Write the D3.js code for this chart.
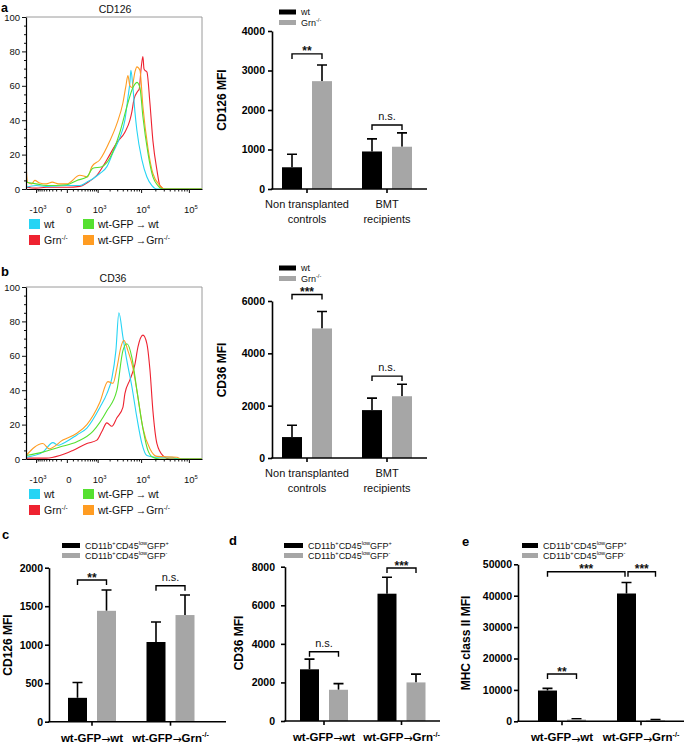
<!DOCTYPE html>
<html><head><meta charset="utf-8">
<script src="https://cdn.jsdelivr.net/npm/d3@7"></script>
<style>
body{margin:0;background:#fff;}
svg{font-family:"Liberation Sans",Arial,sans-serif;}
</style></head><body>
<svg id="fig" width="685" height="746"></svg>
<script>
// ================= DATA =================
// flow histograms: [fluorescence, % of max]
const histTicks = [-1000, 0, 1000, 10000, 100000];
const histTickLabels = [[["-10"],["3","sup"]], [["0"]], [["10"],["3","sup"]], [["10"],["4","sup"]], [["10"],["5","sup"]]];
const histYTicks = [0, 20, 40, 60, 80, 100];

const cd126Wt = [[-1800,1],[-1000,2],[-500,1.5],[0,2],[257,2],[478,4],[736,6],[1146,9],[1719,13],[2387,21],[3452,30],[4461,40],[5193,53],[5743,62],[6039,69],[6673,59],[7369,45],[8136,34],[10407,17],[13288,7],[16941,2],[21589,0],[187000,0]];
const cd126Grn = [[-1800,1],[-1000,0.5],[-500,1],[0,1],[257,1.5],[478,3.5],[953,8],[1719,17],[2952,27],[4461,33],[5743,40],[6347,45],[7012,52],[8549,57],[9100,58],[10000,70],[10929,77],[11500,70],[12054,69],[13288,68],[15376,50],[17785,28],[21589,11],[24951,2],[31750,0],[187000,0]];
const cd126GfpWt = [[-1800,4],[-1000,3],[-500,2],[0,2.5],[183,5],[478,7],[736,12],[1291,13],[2029,18],[3452,33],[5193,50],[6673,59],[7369,61],[8136,62],[9433,59],[10929,42],[13951,21],[17785,7],[22657,2],[28833,0],[187000,0]];
const cd126GfpGrn = [[-1800,15],[-1650,4],[-1300,3],[-1079,5],[-800,3.5],[-500,3],[-300,4],[-150,3],[0,3],[257,8],[500,7],[688,13],[1146,17],[2029,28],[2952,38],[4029,50],[4700,60],[5193,66],[5743,60],[6347,59],[7369,68],[8136,71],[9433,69],[10929,48],[13951,24],[17785,9],[24951,2],[31750,0],[187000,0]];

const cd36Wt = [[-1800,1],[-642,4],[-285,9.5],[-150,8],[-63,9],[183,14],[478,18],[1146,30],[1719,38],[2262,47],[2800,63],[3277,85],[4029,71],[4938,57],[6347,42],[8136,24],[10407,9],[13288,2],[20000,1],[45000,1],[60000,0],[187000,0]];
const cd36Grn = [[-1800,0.5],[-500,0.5],[-119,2],[99,5],[478,9],[953,11],[1291,16],[1719,21],[2262,19],[2952,24],[4029,30],[4461,38],[5743,46],[7369,55],[8549,65],[10929,72],[13288,67],[15376,52],[17785,28],[21589,9],[28833,2],[40000,0],[187000,0]];
const cd36GfpWt = [[-1800,2],[-642,4],[-119,7],[183,10],[736,16],[1719,28],[2952,40],[4029,63],[4938,67],[6347,59],[8136,40],[10407,21],[13951,5],[17785,1],[25000,0],[187000,0]];
const cd36GfpGrn = [[-1800,2],[-642,9],[-400,6],[-63,11],[183,15],[478,20],[1146,33],[1817,45],[2400,44],[2952,53],[3635,65],[4240,69],[5193,63],[6673,53],[8549,36],[10929,18],[15376,6],[21589,1.5],[56490,1],[70000,0],[187000,0]];

const histLegendLabels = [[["wt"]], [["wt-GFP\u2009\u2192\u2009wt"]], [["Grn"],["-/-","sup"]], [["wt-GFP\u2009\u2192Grn"],["-/-","sup"]]];

// bar charts
const abGroups = [["Non transplanted","controls"],["BMT","recipients"]];
const abLegend = [[["wt"]], [["Grn"],["-/-","sup"]]];
const aTicks = [0,1000,2000,3000,4000];
const aWt = [550, 950],   aWtErr = [330, 320];
const aGrn = [2730, 1070], aGrnErr = [410, 350];
const aSig = [{from:[0,0],to:[0,1],level:3420,label:"**"},{from:[1,0],to:[1,1],level:1620,label:"n.s."}];

const bTicks = [0,2000,4000,6000];
const bWt = [800, 1830],  bWtErr = [450, 460];
const bGrn = [4950, 2360], bGrnErr = [650, 460];
const bSig = [{from:[0,0],to:[0,1],level:6250,label:"***"},{from:[1,0],to:[1,1],level:3130,label:"n.s."}];

const cdeGroups = [[["wt-GFP"],["\u2192","sub"],["wt"]], [["wt-GFP"],["\u2192","sub"],["Grn"],["-/-","sup"]]];
const cdeLegend = [[["CD11b"],["+","sup"],["CD45"],["low","sup"],["GFP"],["+","sup"]], [["CD11b"],["+","sup"],["CD45"],["low","sup"],["GFP"],["-","sup"]]];
const cTicks = [0,500,1000,1500,2000];
const cPos = [310, 1035],  cPosErr = [200, 260];
const cNeg = [1440, 1385], cNegErr = [270, 260];
const cSig = [{from:[0,0],to:[0,1],level:1840,label:"**"},{from:[1,0],to:[1,1],level:1766,label:"n.s."}];

const dTicks = [0,2000,4000,6000,8000];
const dPos = [2680, 6600], dPosErr = [530, 850];
const dNeg = [1620, 2000], dNegErr = [320, 430];
const dSig = [{from:[0,0],to:[0,1],level:3590,label:"n.s."},{from:[1,0],to:[1,1],level:7930,label:"***"}];

const eTicks = [0,10000,20000,30000,40000,50000];
const ePos = [9800, 40700], ePosErr = [700, 3500];
const eNeg = [550, 320],    eNegErr = [250, 200];
const eSig = [{from:[0,0],to:[1,0],level:47640,label:"***",inset:[0,1.5]},{from:[1,0],to:[1,1],level:47640,label:"***",inset:[1.5,0]},{from:[0,0],to:[0,1],level:15060,label:"**"}];

// ================= STYLE =================
const COL = {cyan:'#25d4f4', red:'#ee2230', green:'#55e030', orange:'#ff9c22', gray:'#a6a6a6', black:'#000000', frame:'#9a9a9a'};

const svg = d3.select('#fig');

function rich(sel, segs, fs) {
  let shift = 0;
  segs.forEach(([t, kind]) => {
    const target = kind === 'sup' ? -fs*0.38 : kind === 'sub' ? fs*0.12 : 0;
    const ts = sel.append('tspan').text(t).attr('dy', target - shift);
    if (kind === 'sup') ts.attr('font-size', fs*0.62);
    if (kind === 'sub') ts.attr('font-size', fs*0.95).attr('font-family', '"DejaVu Sans",sans-serif').attr('font-weight', 'normal');
    shift = target;
  });
  return sel;
}

// ================= HISTOGRAMS =================
function histogram(cfg) {
  const g = svg.append('g');
  const x = d3.scaleSymlog().constant(300).domain([-1800, 187000]).range([cfg.x0, cfg.x1]);
  const y = d3.scaleLinear().domain([0, 100]).range([cfg.y0, cfg.y1]);
  const id = 'clip' + cfg.key;
  svg.append('clipPath').attr('id', id).append('rect')
    .attr('x', cfg.x0).attr('y', cfg.y1 - 2).attr('width', cfg.x1 - cfg.x0).attr('height', cfg.y0 - cfg.y1 + 2);

  g.append('path').attr('d', `M${cfg.x0},${cfg.y1}H${cfg.x1}V${cfg.y0}`)
    .attr('stroke', COL.frame).attr('fill', 'none').attr('stroke-width', 1);

  const line = d3.line().x(d => x(d[0])).y(d => y(d[1])).curve(d3.curveMonotoneX);
  cfg.series.forEach(s => {
    g.append('path').datum(s.data).attr('d', line).attr('fill', 'none')
      .attr('stroke', s.color).attr('stroke-width', 1.1).attr('clip-path', `url(#${id})`);
  });

  // y axis
  const minorY = d3.range(0, 101, 5).filter(v => v % 20 !== 0);
  g.append('g').attr('transform', `translate(${cfg.x0},0)`)
    .call(d3.axisLeft(y).tickValues(minorY).tickSize(2).tickFormat(''))
    .call(a => a.select('.domain').remove());
  const ya = g.append('g').attr('transform', `translate(${cfg.x0},0)`)
    .call(d3.axisLeft(y).tickValues(histYTicks).tickSize(4).tickSizeOuter(0).tickPadding(2));
  ya.selectAll('text').attr('font-size', 9.5).attr('font-family', '"Liberation Sans",Arial,sans-serif').attr('fill', '#111');

  // x axis
  const minorX = [].concat(d3.range(-900, 0, 100), d3.range(100, 1000, 100), d3.range(2000, 10000, 1000), d3.range(20000, 100000, 10000));
  g.append('g').attr('transform', `translate(0,${cfg.y0})`)
    .call(d3.axisBottom(x).tickValues(minorX).tickSize(2.5).tickFormat(''))
    .call(a => a.select('.domain').remove());
  const xa = g.append('g').attr('transform', `translate(0,${cfg.y0})`)
    .call(d3.axisBottom(x).tickValues(histTicks).tickSize(4).tickSizeOuter(0).tickFormat(''));
  [ya, xa].forEach(a => a.select('.domain').attr('stroke-width', 1.2));
  g.selectAll('.tick line').attr('stroke', '#111');

  histTicks.forEach((t, i) => {
    rich(g.append('text').attr('x', x(t) + 2).attr('y', cfg.y0 + 24).attr('text-anchor', 'middle')
      .attr('font-size', 9.5).attr('fill', '#111'), histTickLabels[i], 9.5);
  });

  g.append('text').attr('x', cfg.titleX).attr('y', cfg.titleY).attr('text-anchor', 'middle')
    .attr('font-size', 10.5).attr('fill', '#111').text(cfg.title);

  // legend
  const leg = [{c: COL.cyan, col: 0, row: 0}, {c: COL.green, col: 1, row: 0}, {c: COL.red, col: 0, row: 1}, {c: COL.orange, col: 1, row: 1}];
  leg.forEach((l, i) => {
    const lx = cfg.legX[l.col], ly = cfg.legY + l.row * 16;
    g.append('rect').attr('x', lx).attr('y', ly).attr('width', 11).attr('height', 10).attr('fill', l.c);
    rich(g.append('text').attr('x', lx + 15).attr('y', ly + 9).attr('font-size', 10.5).attr('fill', '#111'), histLegendLabels[i], 10.5);
  });
}

histogram({key: 'a', x0: 26, x1: 202, y0: 189, y1: 17, title: 'CD126', titleX: 115, titleY: 13, legX: [29, 83], legY: 219,
  series: [{data: cd126Grn, color: COL.red}, {data: cd126Wt, color: COL.cyan}, {data: cd126GfpGrn, color: COL.orange}, {data: cd126GfpWt, color: COL.green}]});
histogram({key: 'b', x0: 26, x1: 202, y0: 459, y1: 287, title: 'CD36', titleX: 113, titleY: 282, legX: [29, 83], legY: 489,
  series: [{data: cd36Grn, color: COL.red}, {data: cd36Wt, color: COL.cyan}, {data: cd36GfpGrn, color: COL.orange}, {data: cd36GfpWt, color: COL.green}]});

// ================= BAR CHARTS =================
function barChart(cfg) {
  const g = svg.append('g');
  const y = d3.scaleLinear().domain([0, cfg.yMax]).range([cfg.yZero, cfg.yTop]);
  const x = d3.scaleBand().domain(d3.range(cfg.groups.length)).range(cfg.xRange);
  const xs = d3.scaleBand().domain(d3.range(cfg.series.length)).range([-cfg.half, cfg.half]).paddingInner(cfg.pad);
  const gc = i => x(i) + x.bandwidth() / 2;
  const cx = (gi, si) => gc(gi) + xs(si) + xs.bandwidth() / 2;

  cfg.series.forEach((s, si) => {
    g.selectAll(null).data(s.values).join('path')
      .attr('d', (d, i) => { const c = cx(i, si), t = y(d + s.errors[i]); return `M${c},${y(d)}V${t}M${c - 5},${t}H${c + 5}`; })
      .attr('stroke', '#000').attr('stroke-width', 1.6).attr('fill', 'none');
    g.selectAll(null).data(s.values).join('rect')
      .attr('x', (d, i) => gc(i) + xs(si)).attr('y', d => y(d))
      .attr('width', xs.bandwidth()).attr('height', d => y(0) - y(d)).attr('fill', s.color);
  });

  // y axis
  const ya = g.append('g').attr('transform', `translate(${cfg.axisX},0)`)
    .call(d3.axisLeft(y).tickValues(cfg.ticks).tickSize(4).tickSizeOuter(0).tickPadding(cfg.tickPad).tickFormat(d3.format('d')));
  ya.selectAll('text').attr('font-size', cfg.tickFs).attr('font-weight', 'bold').attr('fill', '#000')
    .attr('font-family', '"Liberation Sans",Arial,sans-serif');
  ya.selectAll('line, path').attr('stroke-width', 1.6).attr('stroke', '#000');

  // x axis
  g.append('line').attr('x1', cfg.axisX - 0.8).attr('x2', cfg.axisEnd).attr('y1', y(0)).attr('y2', y(0))
    .attr('stroke', '#000').attr('stroke-width', 1.6);
  g.selectAll(null).data(cfg.groups).join('line')
    .attr('x1', (d, i) => gc(i)).attr('x2', (d, i) => gc(i)).attr('y1', y(0)).attr('y2', y(0) + 4)
    .attr('stroke', '#000').attr('stroke-width', 1.6);

  cfg.groups.forEach((grp, i) => {
    if (cfg.plainLabels) {
      grp.forEach((ln, k) => g.append('text').attr('x', gc(i)).attr('y', y(0) + 19 + k * 14.5)
        .attr('text-anchor', 'middle').attr('font-size', 11).attr('fill', '#111').text(ln));
    } else {
      rich(g.append('text').attr('x', gc(i)).attr('y', y(0) + 20).attr('text-anchor', 'middle')
        .attr('font-size', cfg.labelFs).attr('font-weight', 'bold').attr('fill', '#000'), grp, cfg.labelFs);
    }
  });

  // title
  g.append('text').attr('transform', `translate(${cfg.titleX},${cfg.titleY}) rotate(-90)`)
    .attr('text-anchor', 'middle').attr('dy', '0.35em').attr('font-size', cfg.titleFs).attr('font-weight', 'bold')
    .attr('fill', '#000').text(cfg.title);

  // significance brackets
  cfg.sig.forEach(s => {
    const ins = s.inset || [0, 0];
    const x1 = cx(s.from[0], s.from[1]) + ins[0], x2 = cx(s.to[0], s.to[1]) - ins[1], yy = y(s.level);
    g.append('path').attr('d', `M${x1},${yy + 5}V${yy}H${x2}V${yy + 5}`)
      .attr('fill', 'none').attr('stroke', '#000').attr('stroke-width', 1.4);
    const star = s.label.startsWith('*');
    g.append('text').attr('x', (x1 + x2) / 2).attr('y', star ? yy + 1.5 : yy - 5).attr('text-anchor', 'middle')
      .attr('font-size', star ? 12 : 11).attr('font-weight', star ? 'bold' : 'normal').attr('fill', '#111').text(s.label);
  });

  // legend
  cfg.series.forEach((s, si) => {
    const ly = cfg.leg.y + si * cfg.leg.gap;
    g.append('rect').attr('x', cfg.leg.x).attr('y', ly).attr('width', cfg.leg.w).attr('height', 5).attr('fill', s.color);
    rich(g.append('text').attr('x', cfg.leg.x + cfg.leg.w + 5).attr('y', ly + 5.5).attr('font-size', cfg.leg.fs).attr('fill', '#111'),
      s.label, cfg.leg.fs);
  });

  if (cfg.letter) g.append('text').attr('x', cfg.letter[0]).attr('y', cfg.letter[1]).attr('font-size', 13).attr('font-weight', 'bold').text(cfg.letter[2]);
}

// panel letters a, b (histogram side)
svg.append('text').attr('x', 1).attr('y', 12).attr('font-size', 12.5).attr('font-weight', 'bold').text('a');
svg.append('text').attr('x', 1).attr('y', 276).attr('font-size', 13).attr('font-weight', 'bold').text('b');

barChart({axisX: 272, axisEnd: 427, yZero: 189, yTop: 31, yMax: 4000, ticks: aTicks, tickPad: 3, tickFs: 10.5,
  xRange: [267, 427], half: 25, pad: 1/3, groups: abGroups, plainLabels: true,
  series: [{values: aWt, errors: aWtErr, color: COL.black, label: abLegend[0]}, {values: aGrn, errors: aGrnErr, color: COL.gray, label: abLegend[1]}],
  title: 'CD126 MFI', titleX: 222, titleY: 100, titleFs: 12, sig: aSig,
  leg: {x: 279, y: 9.5, w: 17, gap: 10.5, fs: 9}});

barChart({axisX: 272, axisEnd: 427, yZero: 458, yTop: 301, yMax: 6000, ticks: bTicks, tickPad: 3, tickFs: 10.5,
  xRange: [267, 427], half: 25, pad: 1/3, groups: abGroups, plainLabels: true,
  series: [{values: bWt, errors: bWtErr, color: COL.black, label: abLegend[0]}, {values: bGrn, errors: bGrnErr, color: COL.gray, label: abLegend[1]}],
  title: 'CD36 MFI', titleX: 222, titleY: 370, titleFs: 12, sig: bSig,
  leg: {x: 279, y: 265.5, w: 17, gap: 10.5, fs: 9}});

barChart({axisX: 49, axisEnd: 226, yZero: 721.7, yTop: 567.7, yMax: 2000, ticks: cTicks, tickPad: 2, tickFs: 10.5,
  xRange: [52.75, 209.75], half: 24, pad: 0.345, groups: cdeGroups, labelFs: 11.5,
  series: [{values: cPos, errors: cPosErr, color: COL.black, label: cdeLegend[0]}, {values: cNeg, errors: cNegErr, color: COL.gray, label: cdeLegend[1]}],
  title: 'CD126 MFI', titleX: 8, titleY: 645, titleFs: 12, sig: cSig,
  leg: {x: 62, y: 543, w: 18, gap: 10, fs: 9}, letter: [2, 539, 'c']});

barChart({axisX: 285, axisEnd: 440, yZero: 721, yTop: 566.7, yMax: 8000, ticks: dTicks, tickPad: 6, tickFs: 10.5,
  xRange: [285.25, 440.25], half: 24, pad: 0.345, groups: cdeGroups, labelFs: 11.5,
  series: [{values: dPos, errors: dPosErr, color: COL.black, label: cdeLegend[0]}, {values: dNeg, errors: dNegErr, color: COL.gray, label: cdeLegend[1]}],
  title: 'CD36 MFI', titleX: 239, titleY: 643, titleFs: 12, sig: dSig,
  leg: {x: 284, y: 543, w: 19, gap: 10, fs: 9}, letter: [229, 545, 'd']});

barChart({axisX: 518, axisEnd: 684, yZero: 721.3, yTop: 564.3, yMax: 50000, ticks: eTicks, tickPad: 2, tickFs: 10.5,
  xRange: [522.5, 680.5], half: 24, pad: 0.345, groups: cdeGroups, labelFs: 11.5,
  series: [{values: ePos, errors: ePosErr, color: COL.black, label: cdeLegend[0]}, {values: eNeg, errors: eNegErr, color: COL.gray, label: cdeLegend[1]}],
  title: 'MHC class II MFI', titleX: 466, titleY: 643, titleFs: 12, sig: eSig,
  leg: {x: 522, y: 543, w: 16, gap: 10, fs: 9}, letter: [462, 546, 'e']});
</script>
</body></html>
